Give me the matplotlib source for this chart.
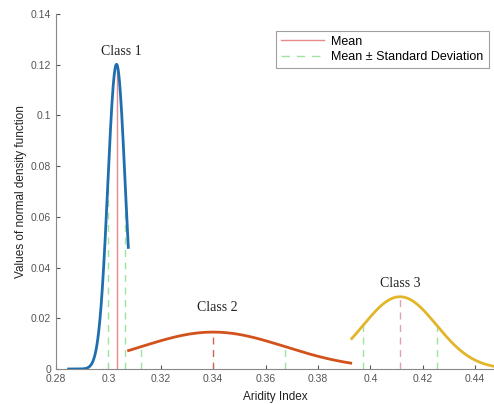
import numpy as np
import matplotlib.pyplot as plt
from matplotlib.ticker import MultipleLocator, FormatStrFormatter

## normal distribution parameters of each aridity class
class_names = ["Class 1", "Class 2", "Class 3"]
class_means = [0.3031, 0.3400, 0.4113]
class_stds = [0.00332, 0.0274, 0.0140]
class_ranges = [(0.2848, 0.3076), (0.3077, 0.3925), (0.3929, 0.4475)]
## density values are shown divided by 1000
density_scale = 1e-3

class_colors = ["#1f6fb0", "#d2521c", "#e2b52a"]
mean_colors = ["#e88a8a", "#c8665a", "#e0a0b0"]
mean_styles = ["-", "--", "--"]
sd_color = "#9ee39e"
label_pos = [(0.3051, 0.1225), (0.3415, 0.0215), (0.4113, 0.0312)]

plt.rcParams["font.family"] = ["Liberation Sans", "DejaVu Sans"]

def npdf(x, mu, sd):
    return density_scale * np.exp(-0.5 * ((x - mu) / sd) ** 2) / (sd * np.sqrt(2 * np.pi))

f = plt.figure(figsize=(4.94, 4.04), dpi=100)
ax = f.add_axes([56 / 494, 35 / 404, 438 / 494, 355 / 404])

for i, name in enumerate(class_names):
    mu, sd = class_means[i], class_stds[i]
    x = np.linspace(class_ranges[i][0], class_ranges[i][1], 300)
    ax.plot(x, npdf(x, mu, sd), color=class_colors[i], lw=2, zorder=3)
    ax.plot([mu, mu], [0, npdf(mu, mu, sd)], color=mean_colors[i], ls=mean_styles[i],
            lw=1, dashes=(5, 4) if mean_styles[i] == "--" else (None, None), zorder=2)
    for xs in (mu - sd, mu + sd):
        ax.plot([xs, xs], [0, npdf(xs, mu, sd)], color=sd_color, lw=1, dashes=(5, 4), zorder=2)
    ax.text(label_pos[i][0], label_pos[i][1], name, family=["Liberation Serif"],
            fontsize=10, ha="center", va="bottom", color="#222222")

## legend entries
ax.plot([], [], color="#e88a8a", lw=1, label="Mean")
ax.plot([], [], color=sd_color, lw=1, dashes=(6, 5), label="Mean \u00b1 Standard Deviation")
leg = ax.legend(loc="upper right", bbox_to_anchor=(0.988, 0.953), fontsize=9, frameon=True,
                fancybox=False, edgecolor="#888888", handlelength=3.4, borderpad=0.4,
                labelspacing=0.3, handletextpad=0.6, borderaxespad=0)
leg.get_frame().set_linewidth(0.8)

ax.set_xlim(0.28, 0.4472)
ax.set_ylim(0, 0.14)
ax.xaxis.set_major_locator(MultipleLocator(0.02))
ax.yaxis.set_major_locator(MultipleLocator(0.02))
ax.xaxis.set_major_formatter(FormatStrFormatter("%g"))
ax.yaxis.set_major_formatter(FormatStrFormatter("%g"))
ax.tick_params(which="both", direction="in", length=3, colors="#555555", labelsize=7.5,
               labelcolor="#555555")
for s in ("top", "right"):
    ax.spines[s].set_visible(False)
for s in ("left", "bottom"):
    ax.spines[s].set_color("#888888")
ax.set_xlabel("Aridity Index", fontsize=8.5, color="#222222", labelpad=5)
ax.set_ylabel("Values of normal density function", fontsize=8.5, color="#222222", labelpad=3)

plt.savefig("out.png", dpi=100)
